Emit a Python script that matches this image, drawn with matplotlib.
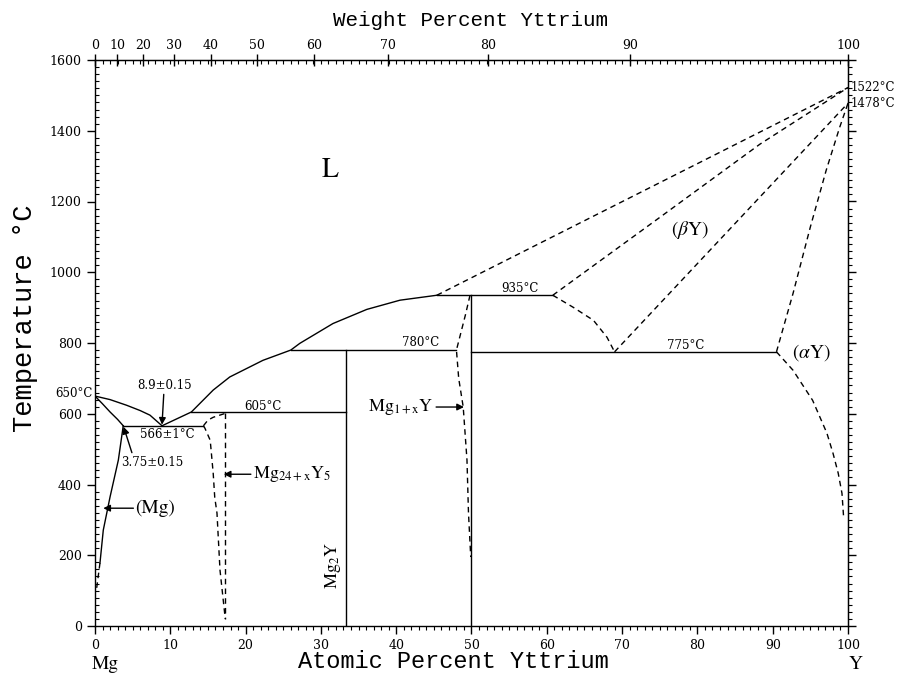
import numpy as np
import matplotlib
matplotlib.use("Agg")
import matplotlib.pyplot as plt
from matplotlib.ticker import MultipleLocator

plt.rcParams['mathtext.fontset'] = 'stix'

M_MG = 24.305
M_Y = 88.906

# liquidus, Mg side -> eutectic
liq_mg_x = [0, 2.0, 4.2, 6.0, 7.3, 8.9]
liq_mg_t = [650, 640, 624, 609, 596, 566]
# solidus of (Mg)
sol_mg_x = [0, 1.0, 2.0, 3.0, 3.75]
sol_mg_t = [650, 628, 605, 584, 566]
# solvus of (Mg)
solv_mg_x = [3.75, 3.1, 2.0, 1.1, 0.66]
solv_mg_t = [566, 469, 365, 271, 178]
solv_mg_dash_x = [0.66, 0.22]
solv_mg_dash_t = [178, 107]
# liquidus from eutectic up to 935
liq_x = [8.9, 10.8, 12.8, 15.7, 17.9, 22.3, 26.0, 27.2, 31.6, 36.1, 40.5, 45.4]
liq_t = [566, 585, 605, 667, 704, 751, 780, 799, 855, 895, 921, 935]
# dashed liquidus and (betaY) solidus towards Y melting point
liq_y_x = [45.4, 100]
liq_y_t = [935, 1522]
sol_b_x = [60.8, 75.0, 88.3, 100]
sol_b_t = [935, 1155, 1362, 1522]
# (betaY) solvus and transus
solv_b_x = [60.8, 63.5, 66.2, 68.0, 69.0]
solv_b_t = [935, 901, 864, 816, 775]
trans_b_x = [69.0, 100]
trans_b_t = [775, 1478]
# (alphaY) boundaries
trans_a_x = [90.5, 92.7, 95.0, 97.1, 98.9, 100]
trans_a_t = [775, 940, 1128, 1288, 1410, 1478]
solv_a_x = [90.5, 92.7, 95.3, 97.2, 98.0, 98.7, 99.2, 99.4]
solv_a_t = [775, 723, 638, 545, 489, 432, 375, 313]
# Mg24+xY5 region
m245_top_x = [14.4, 15.0, 15.7, 17.0, 17.3]
m245_top_t = [566, 582, 590, 599, 601]
m245_left_x = [14.4, 14.6, 15.3, 15.7, 15.9, 16.2, 16.6, 17.3]
m245_left_t = [566, 559, 525, 431, 364, 319, 158, 20]
m245_right_x = [17.3, 17.3]
m245_right_t = [601, 20]
# Mg1+xY left boundary
m1x_x = [49.8, 49.2, 48.6, 48.0, 48.3, 48.9, 49.4, 49.6, 49.9]
m1x_t = [935, 880, 830, 780, 700, 619, 469, 319, 195]
# invariant lines: (x_start, x_end, T)
invariants = [(3.75, 14.4, 566), (12.8, 33.3, 605), (26.0, 48.0, 780),
              (45.4, 60.8, 935), (50.0, 90.5, 775)]
# line compounds: (x, T_top)
compounds = [(33.3, 780), (50.0, 935)]

wt_ticks = [0, 10, 20, 30, 40, 50, 60, 70, 80, 90, 100]


def wt_to_at(w):
    w = np.asarray(w, dtype=float)
    ny = w / M_Y
    nmg = (100 - w) / M_MG
    return 100 * ny / (ny + nmg)


fig = plt.figure(figsize=(9.04, 6.77), dpi=100)
ax = fig.add_axes([95 / 904, 51 / 677, 753 / 904, 566 / 677])
ax.set_xlim(0, 100)
ax.set_ylim(0, 1600)

solid = dict(color='k', lw=1.0)
dash = dict(color='k', lw=1.0, linestyle=(0, (4, 3)))

ax.plot(liq_mg_x, liq_mg_t, **solid)
ax.plot(sol_mg_x, sol_mg_t, **solid)
ax.plot(solv_mg_x, solv_mg_t, **solid)
ax.plot(solv_mg_dash_x, solv_mg_dash_t, **dash)
ax.plot(liq_x, liq_t, **solid)
ax.plot(liq_y_x, liq_y_t, **dash)
ax.plot(sol_b_x, sol_b_t, **dash)
ax.plot(solv_b_x, solv_b_t, **dash)
ax.plot(trans_b_x, trans_b_t, **dash)
ax.plot(trans_a_x, trans_a_t, **dash)
ax.plot(solv_a_x, solv_a_t, **dash)
ax.plot(m245_top_x, m245_top_t, **dash)
ax.plot(m245_left_x, m245_left_t, **dash)
ax.plot(m245_right_x, m245_right_t, **dash)
ax.plot(m1x_x, m1x_t, **dash)
for x0, x1, t in invariants:
    ax.plot([x0, x1], [t, t], **solid)
for x, t in compounds:
    ax.plot([x, x], [0, t], **solid)

# ticks
ax.xaxis.set_major_locator(MultipleLocator(10))
ax.xaxis.set_minor_locator(MultipleLocator(1))
ax.yaxis.set_major_locator(MultipleLocator(200))
ax.yaxis.set_minor_locator(MultipleLocator(20))
ax.tick_params(which='major', direction='out', length=6, width=1)
ax.tick_params(which='minor', axis='x', direction='out', length=3, width=0.8)
ax.tick_params(which='minor', axis='y', direction='in', length=3, width=0.8)
for lab in ax.get_xticklabels() + ax.get_yticklabels():
    lab.set_fontfamily('DejaVu Serif')
    lab.set_fontsize(9)

top = ax.secondary_xaxis('top')
top.set_xticks(wt_to_at(wt_ticks), [str(w) for w in wt_ticks])
top.xaxis.set_minor_locator(MultipleLocator(1))
top.tick_params(which='major', direction='inout', length=9, width=1, pad=1)
top.tick_params(which='minor', direction='in', length=3, width=0.8)
for lab in top.get_xticklabels():
    lab.set_fontfamily('DejaVu Serif')
    lab.set_fontsize(9)

right = ax.secondary_yaxis('right')
right.yaxis.set_major_locator(MultipleLocator(200))
right.yaxis.set_minor_locator(MultipleLocator(20))
right.tick_params(which='major', direction='out', length=6, width=1, labelright=False)
right.tick_params(which='minor', direction='out', length=3, width=0.8)

for sp in ax.spines.values():
    sp.set_linewidth(1.0)

# axis titles
mono = 'Liberation Mono'
fig.text(453 / 904, 1 - 662 / 677, 'Atomic Percent Yttrium', ha='center', va='center',
         family=mono, size=17)
fig.text(471 / 904, 1 - 20 / 677, 'Weight Percent Yttrium', ha='center', va='center',
         family=mono, size=15)
fig.text(25 / 904, 1 - 318 / 677, 'Temperature °C', ha='center', va='center', rotation=90,
         family=mono, size=19.5)

# phase labels
serif = dict(family='STIXGeneral')
ax.text(31.2, 1288, 'L', ha='center', va='center', size=20, **serif)
ax.text(79.0, 1119, r'$(\beta\mathrm{Y})$', ha='center', va='center', size=14)
ax.text(95.2, 774, r'$(\alpha\mathrm{Y})$', ha='center', va='center', size=14)
ax.text(31.6, 172, r'$\mathrm{Mg_2Y}$', ha='center', va='center', size=13, rotation=90)
ax.text(1.3, -110, 'Mg', ha='center', va='center', size=14, clip_on=False, **serif)
ax.text(101.0, -110, 'Y', ha='center', va='center', size=14, clip_on=False, **serif)

# temperatures of invariants
small = dict(family='DejaVu Serif', size=8.5)
ax.text(56.4, 955, '935°C', ha='center', va='center', **small)
ax.text(43.2, 800, '780°C', ha='center', va='center', **small)
ax.text(78.4, 794, '775°C', ha='center', va='center', **small)
ax.text(22.3, 620, '605°C', ha='center', va='center', **small)
ax.text(9.6, 540, '566±1°C', ha='center', va='center', **small)
ax.text(-0.3, 657, '650°C', ha='right', va='center', clip_on=False, **small)
ax.text(100.3, 1522, '1522°C', ha='left', va='center', clip_on=False, **small)
ax.text(100.3, 1478, '1478°C', ha='left', va='center', clip_on=False, **small)

# compositions with arrows
arrow = dict(arrowstyle='-|>', color='k', lw=1, mutation_scale=10, shrinkA=0, shrinkB=0)
ax.annotate('8.9±0.15', xy=(8.9, 569), xytext=(9.2, 681), ha='center', va='center',
            arrowprops=arrow, **small)
ax.annotate('', xy=(3.8, 563), xytext=(4.9, 490), arrowprops=arrow)
ax.text(7.6, 462, '3.75±0.15', ha='center', va='center', **small)
ax.annotate('', xy=(1.1, 333), xytext=(5.1, 333), arrowprops=arrow)
ax.text(5.3, 333, '(Mg)', ha='left', va='center', size=14, **serif)
ax.annotate('', xy=(17.1, 429), xytext=(20.7, 429), arrowprops=arrow)
ax.text(21.0, 429, r'$\mathrm{Mg_{24+x}Y_5}$', ha='left', va='center', size=13)
ax.annotate('', xy=(49.0, 619), xytext=(45.3, 619), arrowprops=arrow)
ax.text(45.0, 619, r'$\mathrm{Mg_{1+x}Y}$', ha='right', va='center', size=13)

fig.savefig('out.png', dpi=100)
